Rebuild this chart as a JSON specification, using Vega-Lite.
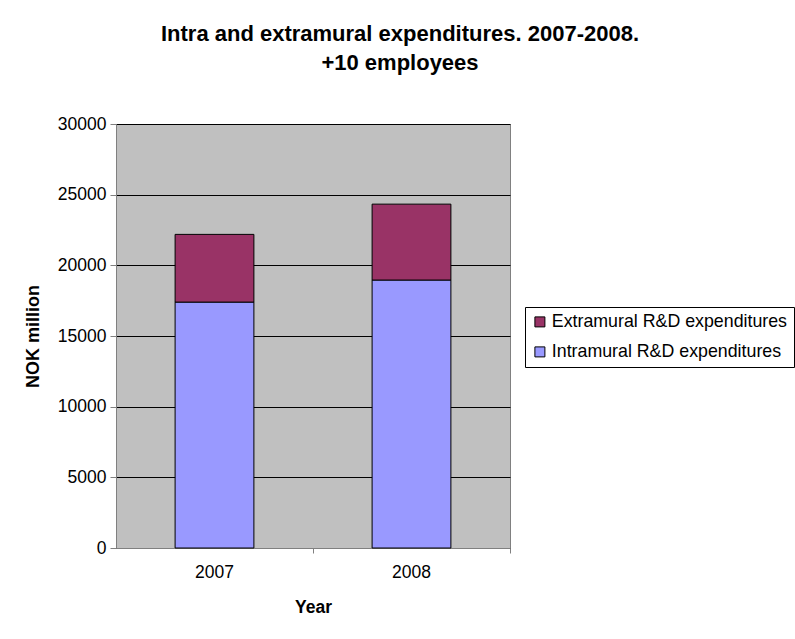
{
  "$schema": "https://vega.github.io/schema/vega-lite/v6.json",
  "autosize": "none",
  "width": 394,
  "height": 424,
  "padding": {"left": 116, "top": 124, "right": 285, "bottom": 91},
  "background": "white",
  "config": {
    "font": "Liberation Sans",
    "view": {"fill": "#c0c0c0", "stroke": "#808080", "strokeWidth": 1}
  },
  "title": {
    "text": ["Intra and extramural expenditures. 2007-2008.", "+10 employees"],
    "font": "Liberation Sans",
    "fontSize": 22,
    "fontWeight": "bold",
    "color": "black",
    "lineHeight": 29.5,
    "anchor": "middle",
    "frame": "group",
    "dx": 87,
    "offset": 40
  },
  "data": {
    "values": [
      {"year": "2007", "series": "Intramural R&D expenditures", "value": 17400},
      {"year": "2007", "series": "Extramural R&D expenditures", "value": 4790},
      {"year": "2008", "series": "Intramural R&D expenditures", "value": 18960},
      {"year": "2008", "series": "Extramural R&D expenditures", "value": 5370}
    ]
  },
  "mark": {"type": "bar", "stroke": "black", "strokeWidth": 1},
  "encoding": {
    "x": {
      "field": "year",
      "type": "nominal",
      "scale": {"paddingInner": 0.6, "paddingOuter": 0.3},
      "axis": {
        "title": "Year",
        "titleFont": "Liberation Sans",
        "titleFontSize": 17.5,
        "titleFontWeight": "bold",
        "titleColor": "black",
        "titlePadding": 18,
        "labelAngle": 0,
        "labelFont": "Liberation Sans",
        "labelFontSize": 17.5,
        "labelColor": "black",
        "labelPadding": 10,
        "bandPosition": 1.75,
        "tickSize": 5,
        "tickColor": "#808080",
        "domainColor": "#808080",
        "grid": false
      }
    },
    "y": {
      "field": "value",
      "type": "quantitative",
      "stack": "zero",
      "scale": {"domain": [0, 30000], "nice": false},
      "axis": {
        "title": "NOK million",
        "titleFont": "Liberation Sans",
        "titleFontSize": 18,
        "titleFontWeight": "bold",
        "titleColor": "black",
        "titlePadding": 15,
        "values": [0, 5000, 10000, 15000, 20000, 25000, 30000],
        "format": "d",
        "labelFont": "Liberation Sans",
        "labelFontSize": 17.5,
        "labelColor": "black",
        "labelPadding": 4,
        "tickSize": 6,
        "tickColor": "#808080",
        "domainColor": "#808080",
        "grid": true,
        "gridColor": "black",
        "gridOpacity": 1,
        "gridWidth": 1
      }
    },
    "color": {
      "field": "series",
      "type": "nominal",
      "scale": {
        "domain": ["Extramural R&D expenditures", "Intramural R&D expenditures"],
        "range": ["#993366", "#9999ff"]
      },
      "legend": {
        "title": null,
        "orient": "none",
        "legendX": 409,
        "legendY": 183,
        "symbolType": "square",
        "symbolSize": 100,
        "symbolStrokeColor": "black",
        "symbolStrokeWidth": 1,
        "labelFont": "Liberation Sans",
        "labelFontSize": 17.8,
        "labelColor": "black",
        "labelLimit": 400,
        "labelOffset": 3,
        "rowPadding": 11,
        "padding": 6,
        "strokeColor": "black",
        "fillColor": "white"
      }
    },
    "order": {"field": "series", "sort": "descending"}
  }
}
